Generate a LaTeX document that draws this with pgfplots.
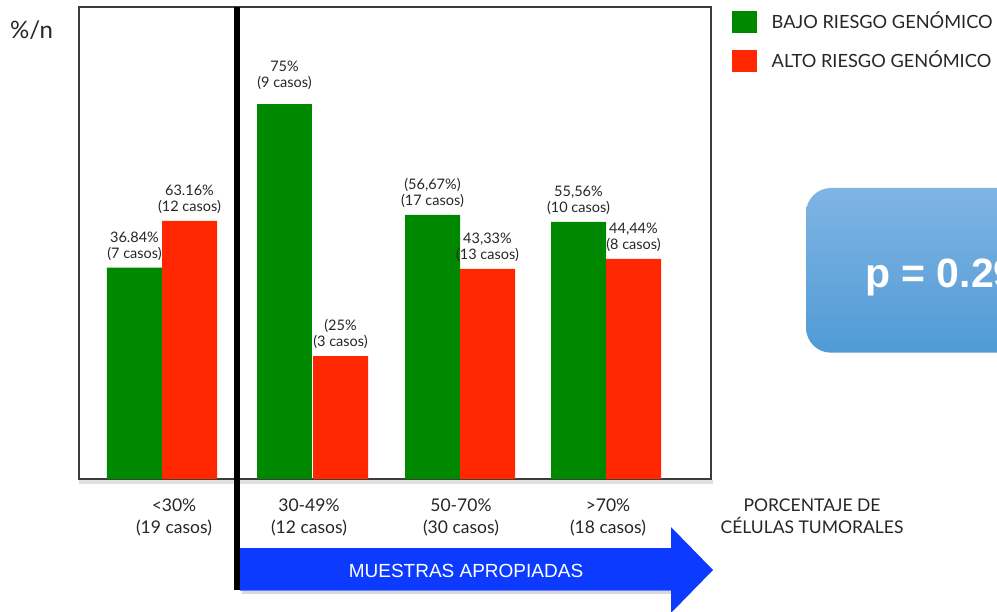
\documentclass[border=0pt]{standalone}
\usepackage{pgfplots}
\pgfplotsset{compat=1.18}
\usepackage{fontspec}
\setmainfont{Lato}
\newfontfamily\arialfont{Liberation Sans}
\definecolor{bajo}{RGB}{0,137,0}
\definecolor{alto}{RGB}{255,40,0}
\definecolor{arrowblue}{RGB}{12,58,255}
\definecolor{frame}{RGB}{60,60,60}
\definecolor{boxtop}{RGB}{128,180,228}
\definecolor{boxbot}{RGB}{80,155,213}
\begin{document}
\begin{tikzpicture}
\useasboundingbox (0pt,0pt) rectangle (997pt,-612pt);
\clip (0pt,0pt) rectangle (997pt,-612pt);
% shadow under axis
\fill[black!12] (79pt,-480pt) rectangle (713pt,-484pt);
\begin{axis}[
  at={(79pt,-479pt)}, anchor=south west,
  scale only axis, width=632pt, height=472pt,
  xmin=79, xmax=711, ymin=0, ymax=94.15,
  axis line style={draw=frame, line width=1.4pt},
  ytick=\empty,
  xtick={174,309,461,608},
  xticklabels={{<30\%\\(19 casos)},{30-49\%\\(12 casos)},{50-70\%\\(30 casos)},{>70\%\\(18 casos)}},
  xticklabel style={align=center, font=\fontsize{17.5}{22}\selectfont, inner sep=0pt, anchor=north, yshift=-20pt, text=black!85},
  major tick length=0pt,
  ybar, bar width=55, bar shift=0pt,
  clip=false,
  nodes near coords,
  point meta=explicit symbolic,
  every node near coord/.append style={align=center, font=\fontsize{14.5}{16}\selectfont, anchor=south, inner sep=0pt, yshift=7pt, text=black!85},
  legend style={at={(1.03275,0.99153)}, anchor=north west, draw=none, fill=none, inner sep=0pt, outer sep=0pt,
    font=\fontsize{18.2}{19}\selectfont, text=black!85, row sep=17pt, nodes={inner sep=0pt},
    /tikz/every odd column/.append style={column sep=15pt}},
  legend cell align=left,
]
\addplot[fill=bajo, draw=none, legend image code/.code={\fill[bajo] (0pt,-12pt) rectangle (25pt,10pt);}]
  coordinates {(134.5,42.15) [{36.84\%\\(7 casos)}] (432.5,52.7) [{(56,67\%)\\(17 casos)}] (578.5,51.3) [{55,56\%\\(10 casos)}]};
\addlegendentry{BAJO RIESGO GENÓMICO}
\addplot[fill=alto, draw=none, legend image code/.code={\fill[alto] (0pt,-12pt) rectangle (25pt,10pt);}]
  coordinates {(189.5,51.5) [{63.16\%\\(12 casos)}] (340.5,24.5) [{(25\%\\(3 casos)}] (487.5,41.9) [{43,33\%\\(13 casos)}] (633.5,43.9) [{44,44\%\\(8 casos)}]};
\addlegendentry{ALTO RIESGO GENÓMICO}
\addplot[fill=bajo, draw=none, forget plot, every node near coord/.append style={yshift=7pt}]
  coordinates {(284.5,74.9) [{75\%\\(9 casos)}]};
\end{axis}
% divider line
\draw[black, line width=5.5pt] (237pt,-7pt) -- (237pt,-590pt);
% arrow shadow
\fill[black!15] (242pt,-591pt) -- (671pt,-591pt) -- (671pt,-594pt) -- (242pt,-594pt) -- cycle;
% arrow
\fill[arrowblue] (240pt,-548pt) -- (671pt,-548pt) -- (671pt,-527pt) -- (713pt,-570pt) -- (671pt,-613pt) -- (671pt,-590.7pt) -- (240pt,-590.7pt) -- cycle;
\node[anchor=base, inner sep=0pt, text=white, font=\arialfont\fontsize{19}{19}\selectfont] at (466pt,-577.5pt) {MUESTRAS APROPIADAS};
% y label
\node[anchor=base west, inner sep=0pt, font=\fontsize{24}{24}\selectfont, text=black!85] at (10pt,-39pt) {\%/n};
% x axis title
\node[anchor=base, inner sep=0pt, align=center, font=\fontsize{17.5}{22}\selectfont, text=black!85] at (812pt,-533pt) {PORCENTAJE DE\\CÉLULAS TUMORALES};
% p-value box
\shade[rounded corners=25pt, top color=boxtop, bottom color=boxbot] (806pt,-188pt) rectangle (1040pt,-352.7pt);
\node[anchor=base west, inner sep=0pt, text=white, font=\arialfont\bfseries\fontsize{41}{41}\selectfont] at (865pt,-288pt) {p = 0.29};
\end{tikzpicture}
\end{document}
